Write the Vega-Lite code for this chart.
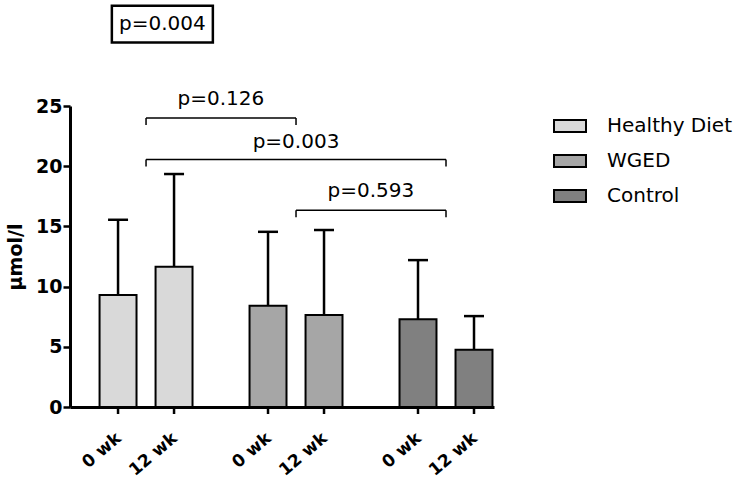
{
  "$schema": "https://vega.github.io/schema/vega-lite/v6.json",
  "width": 424,
  "height": 301,
  "autosize": {"type": "none"},
  "padding": {"left": 70, "top": 106, "right": 243, "bottom": 72},
  "config": {
    "view": {"stroke": null},
    "font": "DejaVu Sans",
    "axis": {"domainColor": "black", "tickColor": "black", "labelColor": "black", "titleColor": "black", "grid": false}
  },
  "data": {
    "values": [
      {"group": "Healthy Diet", "time": "0 wk", "mean": 9.3, "upper": 15.55},
      {"group": "Healthy Diet", "time": "12 wk", "mean": 11.65, "upper": 19.35},
      {"group": "WGED", "time": "0 wk", "mean": 8.4, "upper": 14.55},
      {"group": "WGED", "time": "12 wk", "mean": 7.65, "upper": 14.7},
      {"group": "Control", "time": "0 wk", "mean": 7.28, "upper": 12.2},
      {"group": "Control", "time": "12 wk", "mean": 4.75, "upper": 7.55}
    ]
  },
  "layer": [
    {
      "mark": {"type": "bar", "stroke": "black", "strokeWidth": 2},
      "encoding": {
        "x": {
          "field": "group", "type": "nominal",
          "scale": {"domain": ["Healthy Diet", "WGED", "Control"], "paddingInner": 0.36, "paddingOuter": 0.0935, "align": 1},
          "axis": {"labels": false, "ticks": false, "title": null, "domainWidth": 3}
        },
        "xOffset": {
          "field": "time", "type": "nominal",
          "scale": {"domain": ["0 wk", "12 wk"], "paddingInner": 0.34, "paddingOuter": 0.027}
        },
        "y": {
          "field": "mean", "type": "quantitative",
          "scale": {"domain": [0, 25], "nice": false, "zero": true},
          "axis": {
            "values": [0, 5, 10, 15, 20, 25],
            "title": "μmol/l",
            "titleFontSize": 19, "titleFontWeight": "bold", "titleFont": "DejaVu Sans", "titlePadding": 10,
            "labelFontSize": 19, "labelFontWeight": "bold", "labelFont": "DejaVu Sans", "labelPadding": 1,
            "tickSize": 7, "tickWidth": 2.5, "domainWidth": 3
          }
        },
        "color": {
          "field": "group", "type": "nominal",
          "scale": {"domain": ["Healthy Diet", "WGED", "Control"], "range": ["#d9d9d9", "#a6a6a6", "#808080"]},
          "legend": {
            "title": null,
            "orient": "none", "legendX": 483, "legendY": 3,
            "symbolType": "M-1,-0.375H1V0.375H-1Z",
            "symbolSize": 1024,
            "symbolStrokeColor": "black", "symbolStrokeWidth": 2,
            "labelFontSize": 20, "labelFont": "DejaVu Sans", "labelColor": "black",
            "labelOffset": 20, "rowPadding": 8
          }
        }
      }
    },
    {
      "mark": {"type": "rule", "color": "black", "strokeWidth": 2.5},
      "encoding": {
        "x": {"field": "group", "type": "nominal"},
        "xOffset": {"field": "time", "type": "nominal"},
        "y": {"field": "mean", "type": "quantitative"},
        "y2": {"field": "upper"}
      }
    },
    {
      "mark": {"type": "point", "shape": "M-1,0H1", "size": 400, "stroke": "black", "strokeWidth": 2.5, "filled": false, "opacity": 1},
      "encoding": {
        "x": {"field": "group", "type": "nominal"},
        "xOffset": {"field": "time", "type": "nominal"},
        "y": {"field": "upper", "type": "quantitative"}
      }
    },
    {
      "mark": {"type": "point", "shape": "M0,0V1", "size": 196, "stroke": "black", "strokeWidth": 2.5, "filled": false, "opacity": 1},
      "encoding": {
        "x": {"field": "group", "type": "nominal"},
        "xOffset": {"field": "time", "type": "nominal"},
        "y": {"datum": 0, "type": "quantitative"}
      }
    },
    {
      "mark": {"type": "text", "angle": -40, "align": "right", "baseline": "middle", "dx": -18, "dy": 23, "fontSize": 17, "fontWeight": "bold", "font": "DejaVu Sans", "color": "black"},
      "encoding": {
        "x": {"field": "group", "type": "nominal"},
        "xOffset": {"field": "time", "type": "nominal"},
        "y": {"datum": 0, "type": "quantitative"},
        "text": {"field": "time"}
      }
    },
    {
      "data": {
        "values": [
          {"label": "p=0.126", "from": "Healthy Diet", "to": "WGED", "level": 24.0},
          {"label": "p=0.003", "from": "Healthy Diet", "to": "Control", "level": 20.55},
          {"label": "p=0.593", "from": "WGED", "to": "Control", "level": 16.35}
        ]
      },
      "layer": [
        {
          "mark": {"type": "rule", "color": "black", "strokeWidth": 1.5},
          "encoding": {
            "x": {"field": "from", "type": "nominal"},
            "x2": {"field": "to"},
            "y": {"field": "level", "type": "quantitative"}
          }
        },
        {
          "mark": {"type": "point", "shape": "M0,0V1", "size": 196, "stroke": "black", "strokeWidth": 1.5, "filled": false, "opacity": 1},
          "encoding": {
            "x": {"field": "from", "type": "nominal"},
            "y": {"field": "level", "type": "quantitative"}
          }
        },
        {
          "mark": {"type": "point", "shape": "M0,0V1", "size": 196, "stroke": "black", "strokeWidth": 1.5, "filled": false, "opacity": 1},
          "encoding": {
            "x": {"field": "to", "type": "nominal"},
            "y": {"field": "level", "type": "quantitative"}
          }
        },
        {
          "transform": [{"filter": "datum.label != 'p=0.003'"}],
          "mark": {"type": "text", "fontSize": 20, "font": "DejaVu Sans", "baseline": "alphabetic", "dy": -13, "color": "black"},
          "encoding": {
            "x": {"field": "from", "type": "nominal", "bandPosition": 1.28},
            "y": {"field": "level", "type": "quantitative"},
            "text": {"field": "label"}
          }
        },
        {
          "transform": [{"filter": "datum.label == 'p=0.003'"}],
          "mark": {"type": "text", "fontSize": 20, "font": "DejaVu Sans", "baseline": "alphabetic", "dy": -12, "color": "black"},
          "encoding": {
            "x": {"datum": "WGED", "type": "nominal"},
            "y": {"field": "level", "type": "quantitative"},
            "text": {"field": "label"}
          }
        }
      ]
    },
    {
      "data": {"values": [{"label": "p=0.004", "where": "Healthy Diet", "level": 31.8}]},
      "layer": [
        {
          "mark": {"type": "point", "shape": "M-1,-0.366H1V0.366H-1Z", "size": 10201, "stroke": "black", "strokeWidth": 2.5, "filled": false, "opacity": 1},
          "encoding": {
            "x": {"field": "where", "type": "nominal", "bandPosition": 0.67},
            "y": {"field": "level", "type": "quantitative"}
          }
        },
        {
          "mark": {"type": "text", "fontSize": 20, "font": "DejaVu Sans", "baseline": "middle", "color": "black"},
          "encoding": {
            "x": {"field": "where", "type": "nominal", "bandPosition": 0.67},
            "y": {"field": "level", "type": "quantitative"},
            "text": {"field": "label"}
          }
        }
      ]
    }
  ]
}
